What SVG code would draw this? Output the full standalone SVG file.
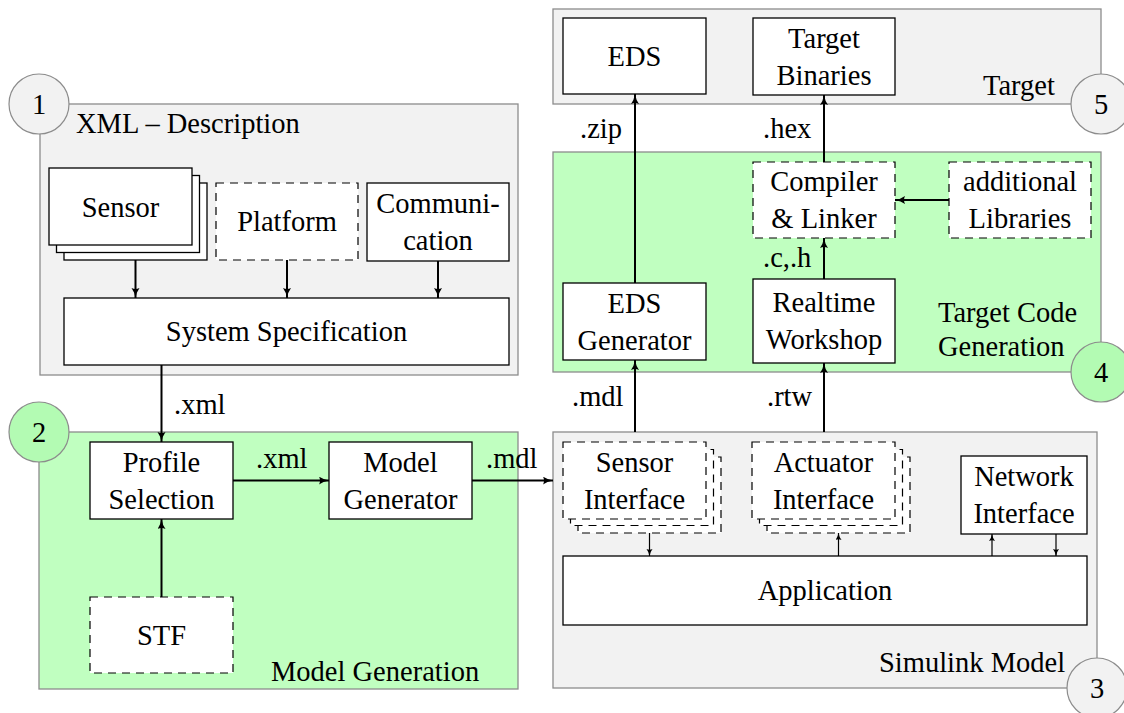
<svg xmlns="http://www.w3.org/2000/svg" width="1124" height="713" viewBox="0 0 1124 713" font-family="Liberation Serif, DejaVu Serif, serif">
<style>
text{font-family:'Liberation Serif','Tinos','Nimbus Roman','DejaVu Serif',serif;font-size:28.5px;fill:#000}
.c{text-anchor:middle}
.panelg{fill:#f2f2f2;stroke:#8c8c8c;stroke-width:1.3}
.panelv{fill:#c0ffc0;stroke:#8c8c8c;stroke-width:1.3}
.circg{fill:#f2f2f2;stroke:#8c8c8c;stroke-width:1.2}
.circv{fill:#b3fbb3;stroke:#8c8c8c;stroke-width:1.2}
.box{fill:#fff;stroke:#000;stroke-width:1.3}
.dbox{fill:#fff;stroke:#000;stroke-width:1.2;stroke-dasharray:8 6}
.ar{fill:none;stroke:#000;stroke-width:2;marker-end:url(#ah)}
.ars{fill:none;stroke:#000;stroke-width:1.2;marker-end:url(#ahs)}
</style>
<defs>
<marker id="ah" markerUnits="userSpaceOnUse" markerWidth="12" markerHeight="10" refX="10" refY="4" orient="auto">
<path d="M0,0 Q4,3 10,4 Q4,5 0,8 Q2,4 0,0 z" fill="#000"/>
</marker>
<marker id="ahs" markerUnits="userSpaceOnUse" markerWidth="9" markerHeight="8" refX="7" refY="3" orient="auto">
<path d="M0,0 Q3,2.3 7,3 Q3,3.7 0,6 Q1.5,3 0,0 z" fill="#000"/>
</marker>
</defs>

<g id="panel-xml">
<rect class="panelg" x="40" y="104" width="478" height="271"/>
<circle class="circg" cx="39" cy="104" r="30"/>
<text class="c" x="39" y="114">1</text>
<text x="76" y="133">XML – Description</text>
</g>

<g id="panel-modelgen">
<rect class="panelv" x="39" y="432" width="479" height="257"/>
<circle class="circv" cx="39" cy="432" r="30"/>
<text class="c" x="39" y="442">2</text>
<text x="271" y="681">Model Generation</text>
</g>

<g id="panel-simulink">
<rect class="panelg" x="553" y="432" width="544" height="256"/>
<text x="879" y="672">Simulink Model</text>
<circle class="circg" cx="1097" cy="688" r="30"/>
<text class="c" x="1097" y="698">3</text>
</g>

<g id="panel-targetcode">
<rect class="panelv" x="553" y="152" width="548" height="220"/>
<text x="938" y="322">Target Code</text>
<text x="938" y="356">Generation</text>
<circle class="circv" cx="1101" cy="372" r="30"/>
<text class="c" x="1101" y="382">4</text>
</g>

<g id="panel-target">
<rect class="panelg" x="553" y="9" width="548" height="95"/>
<text x="983" y="95">Target</text>
<circle class="circg" cx="1101" cy="104" r="30"/>
<text class="c" x="1101" y="114">5</text>
</g>

<g id="sensor">
<rect class="box" x="64" y="183" width="143" height="77"/>
<rect class="box" x="56.5" y="175.5" width="143" height="77"/>
<rect class="box" x="49" y="168" width="143" height="77"/>
<text class="c" x="120.5" y="216.5">Sensor</text>
</g>
<g id="platform">
<rect class="dbox" x="216" y="183" width="142" height="77"/>
<text class="c" x="287" y="231">Platform</text>
</g>
<g id="communication">
<rect class="box" x="367" y="183" width="142" height="78"/>
<text class="c" x="438" y="213">Communi-</text>
<text class="c" x="438" y="250">cation</text>
</g>
<g id="sysspec">
<rect class="box" x="64" y="298" width="445" height="67"/>
<text class="c" x="286.5" y="341">System Specification</text>
</g>

<g id="profile">
<rect class="box" x="90" y="442" width="143" height="77"/>
<text class="c" x="161.5" y="471.5">Profile</text>
<text class="c" x="161.5" y="508.5">Selection</text>
</g>
<g id="modelgenerator">
<rect class="box" x="329" y="442" width="143" height="77"/>
<text class="c" x="400.5" y="471.5">Model</text>
<text class="c" x="400.5" y="508.5">Generator</text>
</g>
<g id="stf">
<rect class="dbox" x="90" y="597" width="143" height="76"/>
<text class="c" x="161.5" y="645">STF</text>
</g>

<g id="sensorif">
<rect class="dbox" x="578" y="457" width="143" height="76"/>
<rect class="dbox" x="570.5" y="449.5" width="143" height="76"/>
<rect class="dbox" x="563" y="442" width="143" height="77"/>
<text class="c" x="634.5" y="471.5">Sensor</text>
<text class="c" x="634.5" y="508.5">Interface</text>
</g>
<g id="actuatorif">
<rect class="dbox" x="767" y="457" width="143" height="76"/>
<rect class="dbox" x="759.5" y="449.5" width="143" height="76"/>
<rect class="dbox" x="752" y="442" width="143" height="77"/>
<text class="c" x="823.5" y="471.5">Actuator</text>
<text class="c" x="823.5" y="508.5">Interface</text>
</g>
<g id="networkif">
<rect class="box" x="961" y="456" width="126" height="78"/>
<text class="c" x="1024" y="486">Network</text>
<text class="c" x="1024" y="523">Interface</text>
</g>
<g id="application">
<rect class="box" x="563" y="556" width="524" height="69"/>
<text class="c" x="825" y="600">Application</text>
</g>

<g id="edsgen">
<rect class="box" x="563" y="283" width="143" height="77"/>
<text class="c" x="634.5" y="312.5">EDS</text>
<text class="c" x="634.5" y="349.5">Generator</text>
</g>
<g id="rtw">
<rect class="box" x="753" y="279" width="142" height="84"/>
<text class="c" x="824" y="312">Realtime</text>
<text class="c" x="824" y="349">Workshop</text>
</g>
<g id="compiler">
<rect class="dbox" x="753" y="162" width="142" height="76"/>
<text class="c" x="824" y="191">Compiler</text>
<text class="c" x="824" y="228">&amp; Linker</text>
</g>
<g id="libraries">
<rect class="dbox" x="949" y="162" width="142" height="76"/>
<text class="c" x="1020" y="191">additional</text>
<text class="c" x="1020" y="228">Libraries</text>
</g>

<g id="eds">
<rect class="box" x="563" y="18" width="143" height="76"/>
<text class="c" x="634.5" y="66">EDS</text>
</g>
<g id="binaries">
<rect class="box" x="753" y="18" width="142" height="77"/>
<text class="c" x="824" y="47.5">Target</text>
<text class="c" x="824" y="84.5">Binaries</text>
</g>

<g id="connectors">
<line class="ar" x1="135.5" y1="260" x2="135.5" y2="298"/>
<line class="ar" x1="287" y1="260" x2="287" y2="298"/>
<line class="ar" x1="438" y1="261" x2="438" y2="298"/>
<line class="ar" x1="161.5" y1="365" x2="161.5" y2="442"/>
<line class="ar" x1="161.5" y1="597" x2="161.5" y2="519"/>
<line class="ar" x1="233" y1="480.5" x2="329" y2="480.5"/>
<line class="ar" x1="472" y1="480.5" x2="553" y2="480.5"/>
<line class="ar" x1="635" y1="432" x2="635" y2="360"/>
<line class="ar" x1="824" y1="432" x2="824" y2="363"/>
<line class="ar" x1="635" y1="283" x2="635" y2="94"/>
<line class="ar" x1="824" y1="279" x2="824" y2="238"/>
<line class="ar" x1="824" y1="162" x2="824" y2="95"/>
<line class="ar" x1="949" y1="200" x2="895" y2="200"/>
<line class="ars" x1="649.5" y1="533" x2="649.5" y2="556"/>
<line class="ars" x1="838.5" y1="556" x2="838.5" y2="533"/>
<line class="ars" x1="992" y1="556" x2="992" y2="534"/>
<line class="ars" x1="1056" y1="534" x2="1056" y2="556"/>
<text x="174" y="414">.xml</text>
<text x="256" y="468">.xml</text>
<text x="486" y="468">.mdl</text>
<text x="572" y="406">.mdl</text>
<text x="767" y="406">.rtw</text>
<text x="580" y="138">.zip</text>
<text x="763" y="138">.hex</text>
<text x="763" y="267">.c,.h</text>
</g>
</svg>
